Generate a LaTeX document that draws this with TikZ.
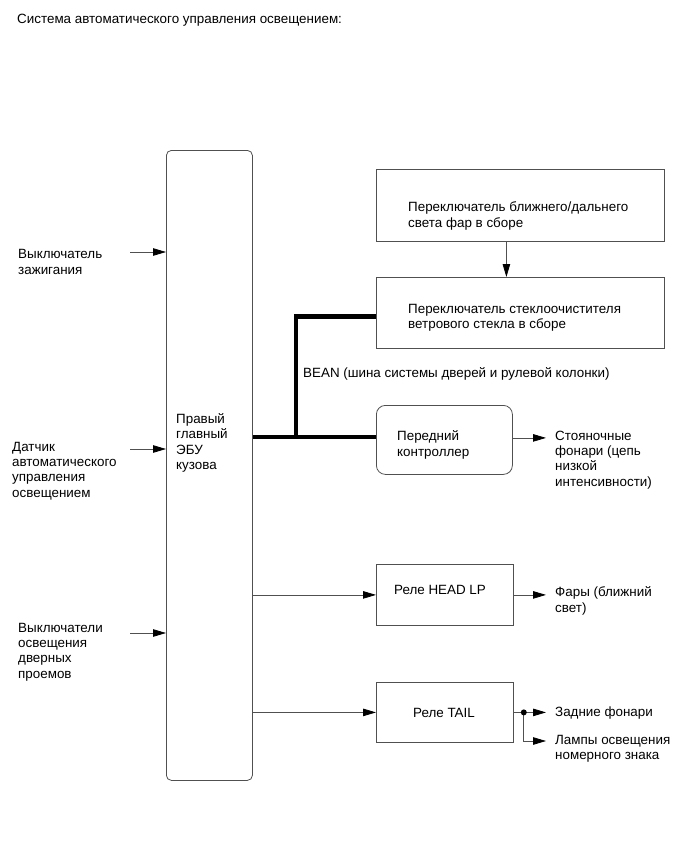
\documentclass[tikz,border=0pt]{standalone}
\usepackage{fontspec}
\setmainfont{Liberation Sans}
\usepackage{tikz}
\usetikzlibrary{arrows.meta,positioning}
\definecolor{Wire}{HTML}{505050}

\begin{document}
\begin{tikzpicture}[x=1pt,y=-1pt,font=\fontsize{13.4}{15.2}\selectfont,>={Triangle[length=13pt,width=7.5pt,color=black]},
  lbl/.style={anchor=west,align=left,inner sep=0pt},
  blk/.style={draw=Wire,line width=0.8pt,inner sep=0pt,anchor=north west},
  arr/.style={->,draw=Wire,line width=0.8pt},
  bus/.style={line width=4.5pt}]
  \useasboundingbox (0,0) rectangle (691,855);

  \node[lbl] (title) at (17,20) {Система автоматического управления освещением:};

  \node[blk,rounded corners=5pt,minimum width=86pt,minimum height=630pt] (ecu) at (166,150) {};
  \node[lbl] (ecutxt) at (176,443) {Правый\\главный\\ЭБУ\\кузова};

  \node[lbl] (ign) at (18,262) {Выключатель\\зажигания};
  \node[lbl] (sensor) at (12,471) {Датчик\\автоматического\\управления\\освещением};
  \node[lbl] (door) at (18,652) {Выключатели\\освещения\\дверных\\проемов};
  \coordinate (ign-in) at (130,252);
  \coordinate (sensor-in) at (130,449);
  \coordinate (door-in) at (130,633);
  \draw[arr] (ign-in) -- (ign-in -| ecu.west);
  \draw[arr] (sensor-in) -- (sensor-in -| ecu.west);
  \draw[arr] (door-in) -- (door-in -| ecu.west);

  \node[blk,minimum width=288pt,minimum height=72pt] (dimsw) at (376,169) {};
  \node[lbl] (dimswtxt) at (408,216) {Переключатель ближнего/дальнего\\света фар в сборе};
  \node[blk,minimum width=288pt,minimum height=71pt] (wiper) at (376,277) {};
  \node[lbl] (wipertxt) at (408,318) {Переключатель стеклоочистителя\\ветрового стекла в сборе};
  \draw[arr] ([xshift=-14pt]dimsw.south) -- ([xshift=-14pt]wiper.north);

  \node[blk,rounded corners=9pt,minimum width=136pt,minimum height=69pt] (fc) at (376,405) {};
  \node[lbl] (fctxt) at (397,445) {Передний\\контроллер};
  \node[blk,minimum width=137pt,minimum height=61pt] (head) at (376,564) {};
  \node[lbl] (headtxt) at (394,590) {Реле HEAD LP};
  \node[blk,minimum width=137pt,minimum height=60pt] (tail) at (376,682) {};
  \node[lbl] (tailtxt) at (413,713) {Реле TAIL};

  \coordinate (tap) at (296,437);
  \draw[bus] (ecu.east |- tap) -- (tap -| fc.west);
  \draw[bus] (tap) |- ([yshift=-3.5pt]wiper.west);
  \node[lbl] (bean) at (303,374) {BEAN (шина системы дверей и рулевой колонки)};

  \draw[arr] (ecu.east |- head.west) -- (head.west);
  \draw[arr] (ecu.east |- tail.west) -- (tail.west);

  \node[lbl] (park) at (555,460) {Стояночные\\фонари (цепь\\низкой\\интенсивности)};
  \node[lbl] (lowbeam) at (555,601) {Фары (ближний\\свет)};
  \node[lbl] (rear) at (555,713) {Задние фонари};
  \node[lbl] (plate) at (555,749) {Лампы освещения\\номерного знака};

  \draw[arr,shorten >=9pt] ([yshift=2pt]fc.east) -- ([yshift=2pt]fc.east -| park.west);
  \draw[arr,shorten >=9pt] (head.east) -- (head.east -| lowbeam.west);
  \coordinate (split) at ([xshift=10pt]tail.east);
  \draw[draw=Wire,line width=0.8pt] (tail.east) -- (split);
  \draw[arr,shorten >=9pt] (split) -- (split -| rear.west);
  \draw[arr,shorten >=9pt] (split) |- ([yshift=8pt]plate.west);
  \fill (split) circle (3pt);
\end{tikzpicture}
\end{document}
